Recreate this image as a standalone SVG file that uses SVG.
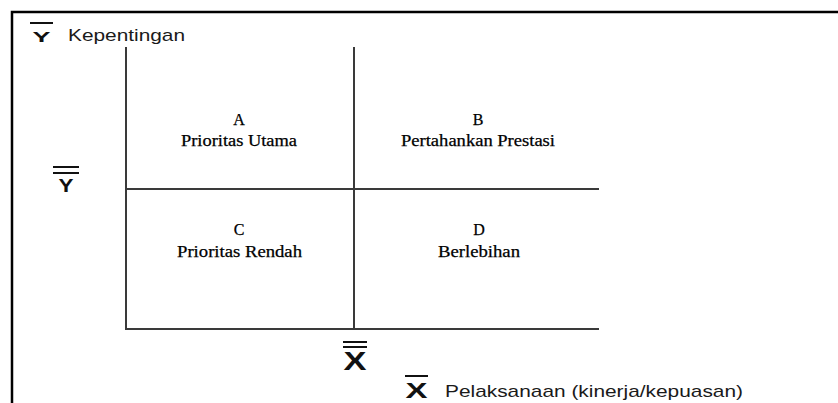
<svg xmlns="http://www.w3.org/2000/svg" width="838" height="403" viewBox="0 0 838 403">
<style>
.sans{font-family:"Liberation Sans",Arial,sans-serif;fill:#1a1a1a}
.sym{font-family:"Liberation Sans",Arial,sans-serif;font-weight:bold;fill:#111;text-anchor:middle}
.q{font-family:"Liberation Serif","Times New Roman",serif;font-size:16px;fill:#000;stroke:#000;stroke-width:0.25;text-anchor:middle}
.ax{stroke:#3a3a3a;stroke-width:2;fill:none}
.bar{stroke:#111;stroke-width:2}
</style>
<rect width="838" height="403" fill="#fff"/>
<g id="frame">
<path d="M12 403 V12 H838" fill="none" stroke="#000" stroke-width="2.5"/>
</g>
<g id="connectors">
<path class="ax" d="M126 47 V329 H599"/>
<path class="ax" d="M354 47 V329"/>
<path class="ax" d="M126 189 H599"/>
</g>
<g id="y-axis-label">
<line class="bar" x1="30" y1="23" x2="53" y2="23"/>
<text class="sym" x="41.5" y="42" font-size="15" textLength="18" lengthAdjust="spacingAndGlyphs">Y</text>
<text class="sans" x="68" y="41" font-size="17" textLength="117" lengthAdjust="spacingAndGlyphs">Kepentingan</text>
</g>
<g id="y-mean">
<line class="bar" x1="53" y1="167" x2="79" y2="167"/>
<line class="bar" x1="53" y1="173" x2="79" y2="173"/>
<text class="sym" x="66" y="192" font-size="19" textLength="15" lengthAdjust="spacingAndGlyphs">Y</text>
</g>
<g id="x-mean">
<line class="bar" x1="343" y1="342" x2="367" y2="342"/>
<line class="bar" x1="343" y1="347" x2="367" y2="347"/>
<text class="sym" x="355" y="370" font-size="25" textLength="23" lengthAdjust="spacingAndGlyphs">X</text>
</g>
<g id="x-axis-label">
<line class="bar" x1="405" y1="376" x2="428" y2="376"/>
<text class="sym" x="416.5" y="398" font-size="22" textLength="22" lengthAdjust="spacingAndGlyphs">X</text>
<text class="sans" x="445" y="397" font-size="17" textLength="298" lengthAdjust="spacingAndGlyphs">Pelaksanaan (kinerja/kepuasan)</text>
</g>
<g id="quadrant-a">
<text class="q" x="239" y="125">A</text>
<text class="q" x="239" y="146" textLength="116" lengthAdjust="spacingAndGlyphs">Prioritas Utama</text>
</g>
<g id="quadrant-b">
<text class="q" x="478" y="125">B</text>
<text class="q" x="478" y="146" textLength="154" lengthAdjust="spacingAndGlyphs">Pertahankan Prestasi</text>
</g>
<g id="quadrant-c">
<text class="q" x="239" y="235">C</text>
<text class="q" x="239.5" y="257" textLength="125" lengthAdjust="spacingAndGlyphs">Prioritas Rendah</text>
</g>
<g id="quadrant-d">
<text class="q" x="479" y="235">D</text>
<text class="q" x="479" y="257" textLength="82" lengthAdjust="spacingAndGlyphs">Berlebihan</text>
</g>
</svg>
